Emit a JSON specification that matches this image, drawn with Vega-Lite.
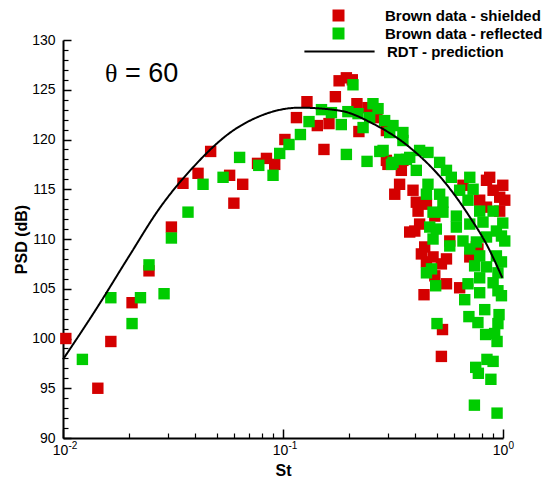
{
  "$schema": "https://vega.github.io/schema/vega-lite/v6.json",
  "autosize": "none",
  "width": 440,
  "height": 398,
  "padding": {"left": 63, "top": 40, "right": 52, "bottom": 49},
  "background": "white",
  "config": {
    "view": {"stroke": null},
    "axis": {"grid": false, "domainColor": "#000000", "tickColor": "#000000", "labelColor": "#000000", "titleColor": "#000000", "labelFont": "Liberation Sans", "titleFont": "Liberation Sans"}
  },
  "datasets": {
    "pts": [
      {"St": 0.0103, "PSD": 100.0, "series": "Brown data - shielded"},
      {"St": 0.0144, "PSD": 95.0, "series": "Brown data - shielded"},
      {"St": 0.0165, "PSD": 99.7, "series": "Brown data - shielded"},
      {"St": 0.0206, "PSD": 103.6, "series": "Brown data - shielded"},
      {"St": 0.0246, "PSD": 106.8, "series": "Brown data - shielded"},
      {"St": 0.0311, "PSD": 111.2, "series": "Brown data - shielded"},
      {"St": 0.0351, "PSD": 115.6, "series": "Brown data - shielded"},
      {"St": 0.0411, "PSD": 116.6, "series": "Brown data - shielded"},
      {"St": 0.0469, "PSD": 118.8, "series": "Brown data - shielded"},
      {"St": 0.0572, "PSD": 116.4, "series": "Brown data - shielded"},
      {"St": 0.0598, "PSD": 113.6, "series": "Brown data - shielded"},
      {"St": 0.0656, "PSD": 115.5, "series": "Brown data - shielded"},
      {"St": 0.0766, "PSD": 117.6, "series": "Brown data - shielded"},
      {"St": 0.0841, "PSD": 118.1, "series": "Brown data - shielded"},
      {"St": 0.0917, "PSD": 117.5, "series": "Brown data - shielded"},
      {"St": 0.102, "PSD": 120.0, "series": "Brown data - shielded"},
      {"St": 0.1151, "PSD": 122.2, "series": "Brown data - shielded"},
      {"St": 0.1285, "PSD": 123.8, "series": "Brown data - shielded"},
      {"St": 0.1799, "PSD": 125.9, "series": "Brown data - shielded"},
      {"St": 0.1941, "PSD": 126.2, "series": "Brown data - shielded"},
      {"St": 0.2065, "PSD": 126.0, "series": "Brown data - shielded"},
      {"St": 0.173, "PSD": 124.3, "series": "Brown data - shielded"},
      {"St": 0.2168, "PSD": 123.6, "series": "Brown data - shielded"},
      {"St": 0.1432, "PSD": 121.4, "series": "Brown data - shielded"},
      {"St": 0.1618, "PSD": 121.6, "series": "Brown data - shielded"},
      {"St": 0.2213, "PSD": 120.8, "series": "Brown data - shielded"},
      {"St": 0.1535, "PSD": 119.0, "series": "Brown data - shielded"},
      {"St": 0.2432, "PSD": 123.2, "series": "Brown data - shielded"},
      {"St": 0.2673, "PSD": 122.2, "series": "Brown data - shielded"},
      {"St": 0.2951, "PSD": 120.9, "series": "Brown data - shielded"},
      {"St": 0.2951, "PSD": 117.9, "series": "Brown data - shielded"},
      {"St": 0.3508, "PSD": 117.9, "series": "Brown data - shielded"},
      {"St": 0.2999, "PSD": 117.5, "series": "Brown data - shielded"},
      {"St": 0.3451, "PSD": 116.9, "series": "Brown data - shielded"},
      {"St": 0.3388, "PSD": 115.5, "series": "Brown data - shielded"},
      {"St": 0.3221, "PSD": 114.5, "series": "Brown data - shielded"},
      {"St": 0.3899, "PSD": 114.9, "series": "Brown data - shielded"},
      {"St": 0.4036, "PSD": 113.7, "series": "Brown data - shielded"},
      {"St": 0.4111, "PSD": 112.8, "series": "Brown data - shielded"},
      {"St": 0.4178, "PSD": 111.5, "series": "Brown data - shielded"},
      {"St": 0.3972, "PSD": 110.8, "series": "Brown data - shielded"},
      {"St": 0.3767, "PSD": 110.7, "series": "Brown data - shielded"},
      {"St": 0.4487, "PSD": 113.5, "series": "Brown data - shielded"},
      {"St": 0.6577, "PSD": 115.4, "series": "Brown data - shielded"},
      {"St": 0.8414, "PSD": 115.9, "series": "Brown data - shielded"},
      {"St": 0.87, "PSD": 116.2, "series": "Brown data - shielded"},
      {"St": 0.9016, "PSD": 114.9, "series": "Brown data - shielded"},
      {"St": 0.9661, "PSD": 114.2, "series": "Brown data - shielded"},
      {"St": 0.9977, "PSD": 115.4, "series": "Brown data - shielded"},
      {"St": 1.0186, "PSD": 113.9, "series": "Brown data - shielded"},
      {"St": 0.9661, "PSD": 112.8, "series": "Brown data - shielded"},
      {"St": 0.8414, "PSD": 113.2, "series": "Brown data - shielded"},
      {"St": 0.7834, "PSD": 113.9, "series": "Brown data - shielded"},
      {"St": 0.4898, "PSD": 112.3, "series": "Brown data - shielded"},
      {"St": 0.5728, "PSD": 109.8, "series": "Brown data - shielded"},
      {"St": 0.4406, "PSD": 109.2, "series": "Brown data - shielded"},
      {"St": 0.7568, "PSD": 109.2, "series": "Brown data - shielded"},
      {"St": 0.4256, "PSD": 108.5, "series": "Brown data - shielded"},
      {"St": 0.4808, "PSD": 108.2, "series": "Brown data - shielded"},
      {"St": 0.5534, "PSD": 108.0, "series": "Brown data - shielded"},
      {"St": 0.5248, "PSD": 107.5, "series": "Brown data - shielded"},
      {"St": 0.4487, "PSD": 107.7, "series": "Brown data - shielded"},
      {"St": 0.4898, "PSD": 106.3, "series": "Brown data - shielded"},
      {"St": 0.5534, "PSD": 105.5, "series": "Brown data - shielded"},
      {"St": 0.6353, "PSD": 105.1, "series": "Brown data - shielded"},
      {"St": 0.4375, "PSD": 104.4, "series": "Brown data - shielded"},
      {"St": 0.7063, "PSD": 108.2, "series": "Brown data - shielded"},
      {"St": 0.7691, "PSD": 109.0, "series": "Brown data - shielded"},
      {"St": 0.5309, "PSD": 100.9, "series": "Brown data - shielded"},
      {"St": 0.5248, "PSD": 98.2, "series": "Brown data - shielded"},
      {"St": 0.01225, "PSD": 97.9, "series": "Brown data - reflected"},
      {"St": 0.0165, "PSD": 104.1, "series": "Brown data - reflected"},
      {"St": 0.0206, "PSD": 101.5, "series": "Brown data - reflected"},
      {"St": 0.0225, "PSD": 104.1, "series": "Brown data - reflected"},
      {"St": 0.0246, "PSD": 107.4, "series": "Brown data - reflected"},
      {"St": 0.0288, "PSD": 104.5, "series": "Brown data - reflected"},
      {"St": 0.0311, "PSD": 110.1, "series": "Brown data - reflected"},
      {"St": 0.037, "PSD": 112.7, "series": "Brown data - reflected"},
      {"St": 0.0433, "PSD": 115.5, "series": "Brown data - reflected"},
      {"St": 0.0534, "PSD": 116.2, "series": "Brown data - reflected"},
      {"St": 0.0635, "PSD": 118.2, "series": "Brown data - reflected"},
      {"St": 0.0776, "PSD": 117.4, "series": "Brown data - reflected"},
      {"St": 0.0901, "PSD": 116.4, "series": "Brown data - reflected"},
      {"St": 0.0966, "PSD": 118.6, "series": "Brown data - reflected"},
      {"St": 0.1065, "PSD": 119.5, "series": "Brown data - reflected"},
      {"St": 0.12, "PSD": 120.5, "series": "Brown data - reflected"},
      {"St": 0.1313, "PSD": 121.8, "series": "Brown data - reflected"},
      {"St": 0.208, "PSD": 125.5, "series": "Brown data - reflected"},
      {"St": 0.1496, "PSD": 123.0, "series": "Brown data - reflected"},
      {"St": 0.166, "PSD": 122.7, "series": "Brown data - reflected"},
      {"St": 0.1841, "PSD": 121.5, "series": "Brown data - reflected"},
      {"St": 0.1972, "PSD": 122.8, "series": "Brown data - reflected"},
      {"St": 0.2193, "PSD": 122.6, "series": "Brown data - reflected"},
      {"St": 0.2564, "PSD": 123.6, "series": "Brown data - reflected"},
      {"St": 0.2704, "PSD": 123.1, "series": "Brown data - reflected"},
      {"St": 0.2477, "PSD": 122.2, "series": "Brown data - reflected"},
      {"St": 0.2312, "PSD": 121.2, "series": "Brown data - reflected"},
      {"St": 0.2897, "PSD": 121.9, "series": "Brown data - reflected"},
      {"St": 0.3162, "PSD": 121.4, "series": "Brown data - reflected"},
      {"St": 0.3055, "PSD": 120.7, "series": "Brown data - reflected"},
      {"St": 0.3508, "PSD": 120.7, "series": "Brown data - reflected"},
      {"St": 0.3508, "PSD": 119.9, "series": "Brown data - reflected"},
      {"St": 0.1941, "PSD": 118.5, "series": "Brown data - reflected"},
      {"St": 0.241, "PSD": 117.8, "series": "Brown data - reflected"},
      {"St": 0.2754, "PSD": 118.8, "series": "Brown data - reflected"},
      {"St": 0.3112, "PSD": 117.5, "series": "Brown data - reflected"},
      {"St": 0.3388, "PSD": 118.0, "series": "Brown data - reflected"},
      {"St": 0.3767, "PSD": 118.2, "series": "Brown data - reflected"},
      {"St": 0.4178, "PSD": 118.9, "series": "Brown data - reflected"},
      {"St": 0.2851, "PSD": 118.9, "series": "Brown data - reflected"},
      {"St": 0.3162, "PSD": 117.7, "series": "Brown data - reflected"},
      {"St": 0.3639, "PSD": 118.0, "series": "Brown data - reflected"},
      {"St": 0.4036, "PSD": 116.9, "series": "Brown data - reflected"},
      {"St": 0.456, "PSD": 118.7, "series": "Brown data - reflected"},
      {"St": 0.5152, "PSD": 117.7, "series": "Brown data - reflected"},
      {"St": 0.5534, "PSD": 116.9, "series": "Brown data - reflected"},
      {"St": 0.5821, "PSD": 116.2, "series": "Brown data - reflected"},
      {"St": 0.456, "PSD": 115.5, "series": "Brown data - reflected"},
      {"St": 0.4487, "PSD": 114.5, "series": "Brown data - reflected"},
      {"St": 0.5152, "PSD": 114.5, "series": "Brown data - reflected"},
      {"St": 0.5333, "PSD": 113.7, "series": "Brown data - reflected"},
      {"St": 0.7063, "PSD": 116.2, "series": "Brown data - reflected"},
      {"St": 0.7311, "PSD": 115.0, "series": "Brown data - reflected"},
      {"St": 0.6353, "PSD": 114.9, "series": "Brown data - reflected"},
      {"St": 0.6934, "PSD": 113.9, "series": "Brown data - reflected"},
      {"St": 0.7834, "PSD": 112.8, "series": "Brown data - reflected"},
      {"St": 0.9016, "PSD": 112.8, "series": "Brown data - reflected"},
      {"St": 0.4808, "PSD": 112.7, "series": "Brown data - reflected"},
      {"St": 0.5333, "PSD": 112.7, "series": "Brown data - reflected"},
      {"St": 0.6138, "PSD": 112.3, "series": "Brown data - reflected"},
      {"St": 0.6138, "PSD": 111.2, "series": "Brown data - reflected"},
      {"St": 0.4645, "PSD": 111.2, "series": "Brown data - reflected"},
      {"St": 0.4977, "PSD": 111.0, "series": "Brown data - reflected"},
      {"St": 0.4808, "PSD": 110.0, "series": "Brown data - reflected"},
      {"St": 0.7063, "PSD": 111.5, "series": "Brown data - reflected"},
      {"St": 0.811, "PSD": 111.7, "series": "Brown data - reflected"},
      {"St": 0.9333, "PSD": 110.8, "series": "Brown data - reflected"},
      {"St": 0.984, "PSD": 110.3, "series": "Brown data - reflected"},
      {"St": 0.8414, "PSD": 110.2, "series": "Brown data - reflected"},
      {"St": 0.6577, "PSD": 109.8, "series": "Brown data - reflected"},
      {"St": 0.5728, "PSD": 109.3, "series": "Brown data - reflected"},
      {"St": 0.7568, "PSD": 109.7, "series": "Brown data - reflected"},
      {"St": 0.9977, "PSD": 111.6, "series": "Brown data - reflected"},
      {"St": 1.0186, "PSD": 109.8, "series": "Brown data - reflected"},
      {"St": 0.7063, "PSD": 109.0, "series": "Brown data - reflected"},
      {"St": 0.7834, "PSD": 108.3, "series": "Brown data - reflected"},
      {"St": 0.4487, "PSD": 106.6, "series": "Brown data - reflected"},
      {"St": 0.4732, "PSD": 107.0, "series": "Brown data - reflected"},
      {"St": 0.4943, "PSD": 105.3, "series": "Brown data - reflected"},
      {"St": 0.743, "PSD": 107.3, "series": "Brown data - reflected"},
      {"St": 0.7834, "PSD": 106.1, "series": "Brown data - reflected"},
      {"St": 0.6934, "PSD": 105.5, "series": "Brown data - reflected"},
      {"St": 0.8414, "PSD": 107.2, "series": "Brown data - reflected"},
      {"St": 0.9333, "PSD": 108.3, "series": "Brown data - reflected"},
      {"St": 0.984, "PSD": 107.7, "series": "Brown data - reflected"},
      {"St": 0.9484, "PSD": 106.6, "series": "Brown data - reflected"},
      {"St": 0.9016, "PSD": 105.6, "series": "Brown data - reflected"},
      {"St": 0.9484, "PSD": 104.8, "series": "Brown data - reflected"},
      {"St": 0.984, "PSD": 104.3, "series": "Brown data - reflected"},
      {"St": 0.7834, "PSD": 104.6, "series": "Brown data - reflected"},
      {"St": 0.6699, "PSD": 103.9, "series": "Brown data - reflected"},
      {"St": 0.826, "PSD": 102.9, "series": "Brown data - reflected"},
      {"St": 0.6998, "PSD": 102.2, "series": "Brown data - reflected"},
      {"St": 0.7691, "PSD": 101.6, "series": "Brown data - reflected"},
      {"St": 0.9594, "PSD": 102.4, "series": "Brown data - reflected"},
      {"St": 0.9484, "PSD": 101.5, "series": "Brown data - reflected"},
      {"St": 0.8337, "PSD": 100.4, "series": "Brown data - reflected"},
      {"St": 0.9162, "PSD": 100.5, "series": "Brown data - reflected"},
      {"St": 0.9397, "PSD": 99.7, "series": "Brown data - reflected"},
      {"St": 0.5012, "PSD": 101.5, "series": "Brown data - reflected"},
      {"St": 0.8453, "PSD": 97.9, "series": "Brown data - reflected"},
      {"St": 0.9016, "PSD": 97.7, "series": "Brown data - reflected"},
      {"St": 0.7516, "PSD": 97.1, "series": "Brown data - reflected"},
      {"St": 0.7727, "PSD": 96.5, "series": "Brown data - reflected"},
      {"St": 0.881, "PSD": 95.9, "series": "Brown data - reflected"},
      {"St": 0.7413, "PSD": 93.3, "series": "Brown data - reflected"},
      {"St": 0.9397, "PSD": 92.5, "series": "Brown data - reflected"}
    ],
    "rdt": [
      {"St": 0.01, "PSD": 97.9},
      {"St": 0.0141, "PSD": 102.9},
      {"St": 0.02, "PSD": 108.3},
      {"St": 0.0275, "PSD": 113.1},
      {"St": 0.039, "PSD": 117.2},
      {"St": 0.0593, "PSD": 120.9},
      {"St": 0.0757, "PSD": 122.2},
      {"St": 0.0933, "PSD": 122.9},
      {"St": 0.119, "PSD": 123.2},
      {"St": 0.181, "PSD": 122.9},
      {"St": 0.256, "PSD": 121.6},
      {"St": 0.377, "PSD": 119.2},
      {"St": 0.553, "PSD": 115.5},
      {"St": 0.707, "PSD": 112.2},
      {"St": 0.84, "PSD": 109.5},
      {"St": 0.993, "PSD": 106.1}
    ],
    "theta": [{"St": 0.01553, "PSD": 125.8, "label": "θ"}],
    "val": [{"St": 0.01914, "PSD": 125.8, "label": "= 60"}]
  },
  "layer": [
    {
      "data": {"name": "pts"},
      "mark": {"type": "point", "shape": "square", "filled": true, "opacity": 1, "size": 130, "strokeWidth": 0},
      "encoding": {
        "x": {"field": "St", "type": "quantitative", "scale": {"type": "log", "domain": [0.01, 1], "nice": false},
          "axis": {"orient": "bottom", "values": [0.01, 0.1, 1], "labelExpr": "'10'", "ticks": false, "domain": true, "domainWidth": 2, "labelFontSize": 14, "labelPadding": 5, "labelOffset": -3, "labelAlign": "center", "labelBaseline": "top", "labelOverlap": false, "labelBound": false, "labelFlush": false, "title": "St", "titleFontSize": 16, "titleFontWeight": "bold", "titlePadding": 5}},
        "y": {"field": "PSD", "type": "quantitative", "scale": {"domain": [90, 130], "nice": false, "zero": false},
          "axis": {"orient": "left", "values": [90, 95, 100, 105, 110, 115, 120, 125, 130], "ticks": false, "domain": true, "domainWidth": 2, "labelFontSize": 14, "labelPadding": 8, "labelBaseline": "middle", "labelOverlap": false, "labelBound": false, "labelFlush": false, "title": "PSD (dB)", "titleFontSize": 16, "titleFontWeight": "bold", "titlePadding": 2}},
        "color": {"field": "series", "type": "nominal",
          "scale": {"domain": ["Brown data - shielded", "Brown data - reflected"], "range": ["#d40000", "#00cc00"]},
          "legend": {"orient": "none", "legendX": 268, "legendY": -32, "title": null, "padding": 0, "labelFont": "Liberation Sans", "labelFontSize": 15, "labelFontWeight": "bold", "labelColor": "#000000", "labelOffset": 39, "labelLimit": 400, "symbolSize": 144, "symbolType": "square", "rowPadding": 2}}
      }
    },
    {
      "data": {"name": "rdt"},
      "mark": {"type": "line", "strokeWidth": 2, "interpolate": "monotone", "color": "#000000"},
      "encoding": {
        "x": {"field": "St", "type": "quantitative",
          "axis": {"orient": "bottom", "values": [0.01, 0.1, 1], "labels": false, "domain": false, "ticks": true, "tickSize": -9, "tickWidth": 1.5, "title": null}},
        "y": {"field": "PSD", "type": "quantitative",
          "axis": {"orient": "left", "values": [90, 95, 100, 105, 110, 115, 120, 125, 130], "labels": false, "domain": false, "ticks": true, "tickSize": -8, "tickWidth": 1.5, "title": null}},
        "strokeDash": {"datum": "RDT - prediction", "type": "nominal", "scale": {"range": [[1, 0]]},
          "legend": {"orient": "none", "legendX": 269, "legendY": 4, "title": null, "padding": 0, "labelFont": "Liberation Sans", "labelFontSize": 15, "labelFontWeight": "bold", "labelColor": "#000000", "labelOffset": 40, "labelLimit": 400, "symbolSize": 144, "symbolType": "M-5.85,0H5.85", "symbolStrokeColor": "#000000", "symbolStrokeWidth": 2, "symbolFillColor": "transparent"}}
      }
    },
    {
      "data": {"name": "theta"},
      "mark": {"type": "text", "font": "Liberation Serif", "fontSize": 26, "align": "left", "baseline": "alphabetic", "color": "#000000"},
      "encoding": {
        "x": {"field": "St", "type": "quantitative",
          "axis": {"orient": "bottom", "values": [0.02, 0.03, 0.04, 0.05, 0.06, 0.07, 0.08, 0.09, 0.2, 0.3, 0.4, 0.5, 0.6, 0.7, 0.8, 0.9], "labels": false, "domain": false, "ticks": true, "tickSize": -5, "tickWidth": 1.2, "title": null}},
        "y": {"field": "PSD", "type": "quantitative",
          "axis": {"orient": "left", "values": [91, 92, 93, 94, 96, 97, 98, 99, 101, 102, 103, 104, 106, 107, 108, 109, 111, 112, 113, 114, 116, 117, 118, 119, 121, 122, 123, 124, 126, 127, 128, 129], "labels": false, "domain": false, "ticks": true, "tickSize": -5, "tickWidth": 1.2, "title": null}},
        "text": {"field": "label"}
      }
    },
    {
      "data": {"name": "val"},
      "mark": {"type": "text", "font": "Liberation Sans", "fontSize": 27, "align": "left", "baseline": "alphabetic", "color": "#000000"},
      "encoding": {
        "x": {"field": "St", "type": "quantitative",
          "axis": {"orient": "bottom", "values": [0.01, 0.1, 1], "labelExpr": "datum.value < 0.05 ? '-2' : (datum.value < 0.5 ? '-1' : '0')", "ticks": false, "domain": false, "labelFontSize": 10, "labelPadding": 2, "labelOffset": 5, "labelAlign": "left", "labelBaseline": "top", "labelOverlap": false, "labelBound": false, "labelFlush": false, "title": null}},
        "y": {"field": "PSD", "type": "quantitative", "axis": null},
        "text": {"field": "label"}
      }
    }
  ],
  "resolve": {"axis": {"x": "independent", "y": "independent"}}
}
